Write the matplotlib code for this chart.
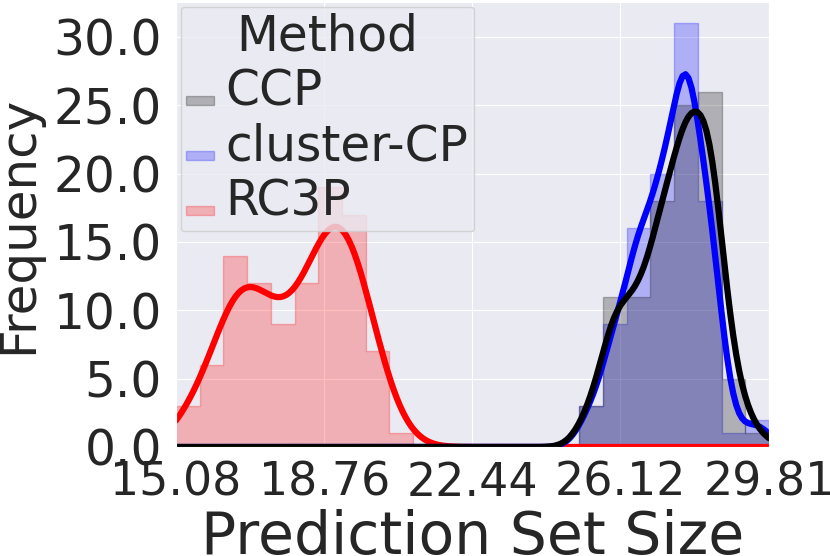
import matplotlib
matplotlib.use("Agg")
import matplotlib.pyplot as plt
import numpy as np
import seaborn as sns
from matplotlib.patches import Patch

# bin range and counts (25 common bins)
x_min, x_max = 15.08, 29.81
n_bins = 25
methods = ["CCP", "cluster-CP", "RC3P"]
colors = ["black", "blue", "red"]

counts_ccp = [0] * 17 + [3, 11, 11, 18, 25, 26, 5, 1]
counts_cluster = [0] * 17 + [3, 9, 16, 20, 31, 18, 1, 2]
counts_rc3p = [3, 6, 14, 12, 9, 12, 19, 17, 7, 1] + [0] * 15

x_ticks = [15.08, 18.76, 22.44, 26.12, 29.81]
x_tick_labels = ["15.08", "18.76", "22.44", "26.12", "29.81"]
y_ticks = [0, 5, 10, 15, 20, 25, 30]


def kde_counts(centers, weights, grid, bin_width):
    # gaussian kde on binned data, scott bandwidth, scaled to counts
    w = np.asarray(weights, dtype=float)
    n = w.sum()
    mean = np.sum(w * centers) / n
    std = np.sqrt(np.sum(w * (centers - mean) ** 2) / (n - 1))
    bw = std * n ** (-1 / 5)
    z = (grid[:, None] - centers[None, :]) / bw
    dens = (np.exp(-0.5 * z**2) * w).sum(axis=1) / (n * bw * np.sqrt(2 * np.pi))
    return dens * n * bin_width


sns.set_style("darkgrid")

fig = plt.figure(figsize=(8.3, 5.56), dpi=100)
ax = fig.add_axes([176 / 830, 109 / 556, 593 / 830, 445 / 556])

edges = np.linspace(x_min, x_max, n_bins + 1)
centers = (edges[:-1] + edges[1:]) / 2
bin_width = edges[1] - edges[0]
grid = np.linspace(x_min, x_max, 200)

all_counts = [counts_ccp, counts_cluster, counts_rc3p]

# histograms (step, filled), drawn last-to-first like seaborn
for counts, color in reversed(list(zip(all_counts, colors))):
    heights = np.append(counts, counts[-1])
    ax.fill_between(edges, heights, step="post", facecolor=color,
                    edgecolor=color, alpha=0.25, linewidth=1)

for counts, color in reversed(list(zip(all_counts, colors))):
    ax.plot(grid, kde_counts(centers, counts, grid, bin_width),
            color=color, linewidth=4.5)

ax.set_xlim(x_min, x_max)
ax.set_ylim(0, 32.55)
ax.set_xticks(x_ticks)
ax.set_xticklabels(x_tick_labels)
ax.set_yticks(y_ticks)
ax.set_yticklabels([f"{v:.1f}" for v in y_ticks])
ax.tick_params(axis="x", labelsize=33, length=0, pad=10)
ax.tick_params(axis="y", labelsize=35, length=0, pad=10)

ax.set_xlabel("Prediction Set Size", fontsize=42, labelpad=2)
ax.set_ylabel("Frequency", fontsize=36, labelpad=8)

handles = [Patch(facecolor=c, edgecolor=c, alpha=0.25) for c in colors]
leg = ax.legend(handles, methods, title="Method", loc="upper left",
                borderaxespad=0.35)
plt.setp(leg.get_texts(), fontsize=35)
leg.get_title().set_fontsize(35)

fig.savefig("out.png", dpi=100)
